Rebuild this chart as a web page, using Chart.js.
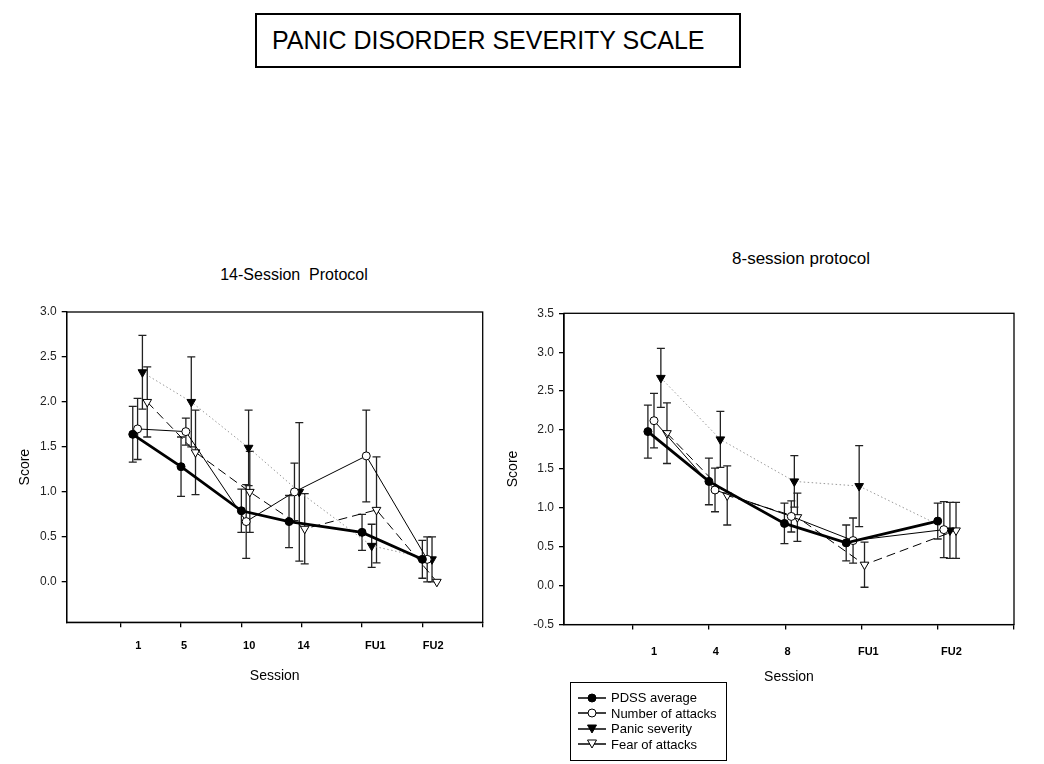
<!DOCTYPE html>
<html lang="en">
<head>
  <meta charset="UTF-8" />
  <title>Panic Disorder Severity Scale</title>
  <script src="https://cdn.jsdelivr.net/npm/chart.js"></script>
  <style>
    body {
      margin: 0;
      background: #fff;
      font-family: Arial, "Liberation Sans", sans-serif;
      color: #000;
    }
    #page {
      position: relative;
      width: 1044px;
      height: 764px;
      overflow: hidden;
    }
    .abs { position: absolute; }
    #mainTitle {
      left: 255px;
      top: 13px;
      width: 486px;
      height: 55px;
      box-sizing: border-box;
      border: 2px solid #000;
      padding-left: 15px;
      font-size: 25px;
      line-height: 51px;
      white-space: pre;
    }
    .panelTitle {
      transform: translate(-50%, -50%);
      white-space: pre;
    }
    #legend {
      left: 570px;
      top: 682px;
      width: 157px;
      height: 79px;
      box-sizing: border-box;
      border: 1px solid #000;
      padding-top: 7px;
      font-size: 13px;
    }
    #legend .row {
      height: 15.5px;
      display: flex;
      align-items: center;
    }
    #legend svg { margin-left: 6px; margin-right: 4px; }
  </style>
</head>
<body>
<div id="page">
  <div id="mainTitle" class="abs">PANIC DISORDER SEVERITY SCALE</div>
  <div class="abs panelTitle" style="left:294px; top:275px; font-size:16px;">14-Session  Protocol</div>
  <div class="abs panelTitle" style="left:801px; top:259px; font-size:17px;">8-session protocol</div>

  <canvas id="chartLeft" class="abs" width="500" height="395" style="left:0; top:290px;"></canvas>
  <canvas id="chartRight" class="abs" width="530" height="396" style="left:490px; top:290px;"></canvas>

  <div id="legend" class="abs"></div>
</div>

<script>
  // ---- shared ----
  const seriesNames = ['PDSS average', 'Number of attacks', 'Panic severity', 'Fear of attacks'];

  // ---- 14-session protocol (left panel) ----
  const sessionsL = ['1', '5', '10', '14', 'FU1', 'FU2'];
  const labelAtL = [1.29, 2.05, 3.13, 4.03, 5.22, 6.18];

  const pdssXL = [1.2, 2.0, 3.0, 3.79, 5.0, 6.0];
  const pdssL = [1.64, 1.28, 0.79, 0.67, 0.55, 0.25];
  const pdssErrL = [0.31, 0.33, 0.24, 0.29, 0.20, 0.21];

  const attacksXL = [1.28, 2.08, 3.08, 3.88, 5.07, 6.08];
  const attacksL = [1.70, 1.67, 0.67, 1.00, 1.40, 0.25];
  const attacksErrL = [0.34, 0.15, 0.41, 0.32, 0.51, 0.25];

  const severityXL = [1.36, 2.17, 3.12, 3.96, 5.16, 6.16];
  const severityL = [2.33, 2.00, 1.49, 1.00, 0.40, 0.25];
  const severityErrL = [0.41, 0.50, 0.42, 0.77, 0.24, 0.25];

  const fearXL = [1.44, 2.24, 3.14, 4.05, 5.24, 6.24];
  const fearL = [2.00, 1.44, 1.00, 0.59, 0.80, 0.00];
  const fearErrL = [0.39, 0.47, 0.45, 0.39, 0.59, 0];

  // ---- 8-session protocol (right panel) ----
  const sessionsR = ['1', '4', '8', 'FU1', 'FU2'];
  const labelAtR = [1.28, 2.09, 3.03, 4.09, 5.18];

  const pdssXR = [1.2, 2.0, 2.99, 3.8, 5.0];
  const pdssR = [1.98, 1.34, 0.80, 0.55, 0.83];
  const pdssErrR = [0.34, 0.30, 0.26, 0.23, 0.23];

  const attacksXR = [1.28, 2.08, 3.08, 3.89, 5.08];
  const attacksR = [2.12, 1.23, 0.89, 0.58, 0.72];
  const attacksErrR = [0.35, 0.28, 0.20, 0.29, 0.36];

  const severityXR = [1.37, 2.15, 3.12, 3.97, 5.16];
  const severityR = [2.67, 1.88, 1.34, 1.28, 0.71];
  const severityErrR = [0.38, 0.36, 0.33, 0.52, 0.36];

  const fearXR = [1.45, 2.24, 3.16, 4.04, 5.24];
  const fearR = [1.96, 1.16, 0.88, 0.27, 0.71];
  const fearErrR = [0.39, 0.38, 0.31, 0.29, 0.36];

  const yTicksL = [0, 0.5, 1.0, 1.5, 2.0, 2.5, 3.0];
  const yTicksR = [-0.5, 0, 0.5, 1.0, 1.5, 2.0, 2.5, 3.0, 3.5];

  function pts(xs, ys) {
    return xs.map((x, i) => ({ x: x, y: ys[i] }));
  }

  // line + marker look for each series
  const looks = [
    { borderColor: '#000', borderWidth: 2.8, borderDash: [], pointStyle: 'circle', pointRadius: 4, pointRotation: 0, pointBackgroundColor: '#000' },
    { borderColor: '#000', borderWidth: 1, borderDash: [], pointStyle: 'circle', pointRadius: 4, pointRotation: 0, pointBackgroundColor: '#fff' },
    { borderColor: '#999', borderWidth: 1, borderDash: [1.5, 2.5], pointStyle: 'triangle', pointRadius: 5, pointRotation: 180, pointBackgroundColor: '#000' },
    { borderColor: '#000', borderWidth: 1, borderDash: [9, 5], pointStyle: 'triangle', pointRadius: 5, pointRotation: 180, pointBackgroundColor: '#fff' }
  ];

  function makeDatasets(groups) {
    return groups.map((g, i) => Object.assign({
      label: seriesNames[i],
      data: pts(g[0], g[1]),
      errors: g[2],
      pointBorderColor: '#000',
      pointBorderWidth: 1,
      tension: 0,
      fill: false
    }, looks[i]));
  }

  // error bars + full frame round the plot
  const errorBars = {
    id: 'errorBars',
    beforeDatasetsDraw(chart) {
      const ctx = chart.ctx;
      const y = chart.scales.y;
      chart.data.datasets.forEach((ds, i) => {
        const meta = chart.getDatasetMeta(i);
        ctx.save();
        ctx.strokeStyle = '#222';
        ctx.lineWidth = 1.3;
        meta.data.forEach((pt, j) => {
          const e = ds.errors[j];
          if (!e) return;
          const v = ds.data[j].y;
          const top = y.getPixelForValue(v + e);
          const bot = y.getPixelForValue(v - e);
          ctx.beginPath();
          ctx.moveTo(pt.x, top); ctx.lineTo(pt.x, bot);
          ctx.moveTo(pt.x - 4, top); ctx.lineTo(pt.x + 4, top);
          ctx.moveTo(pt.x - 4, bot); ctx.lineTo(pt.x + 4, bot);
          ctx.stroke();
        });
        ctx.restore();
      });
    },
    afterDraw(chart) {
      const a = chart.chartArea;
      const ctx = chart.ctx;
      ctx.save();
      ctx.strokeStyle = '#000';
      ctx.lineWidth = 1.3;
      ctx.strokeRect(a.left, a.top, a.right - a.left, a.bottom - a.top);
      ctx.restore();
    }
  };

  function makeChart(id, o) {
    return new Chart(document.getElementById(id), {
      type: 'line',
      data: { datasets: makeDatasets(o.groups) },
      plugins: [errorBars],
      options: {
        responsive: false,
        animation: false,
        devicePixelRatio: 1,
        layout: { padding: o.padding },
        plugins: { legend: { display: false }, tooltip: { enabled: false } },
        scales: {
          x: {
            type: 'linear',
            position: 'bottom',
            bounds: 'data',
            min: o.xMin,
            max: o.xMax,
            weight: 0,
            afterBuildTicks: s => { s.ticks = o.xTickAt.map(v => ({ value: v })); },
            afterFit: s => { s.height = 5; },
            ticks: { display: false },
            grid: { drawOnChartArea: false, drawTicks: true, tickLength: 5, color: '#000', lineWidth: 1.3 },
            border: { color: '#000', width: 1.3 }
          },
          xl: {
            type: 'linear',
            position: 'bottom',
            bounds: 'data',
            min: o.xMin,
            max: o.xMax,
            weight: 1,
            afterBuildTicks: s => { s.ticks = o.labelAt.map(v => ({ value: v })); },
            afterFit: s => { s.height = o.labelAxisHeight; },
            grid: { display: false },
            border: { display: false },
            ticks: {
              autoSkip: false,
              maxRotation: 0,
              padding: o.labelPad,
              color: '#000',
              font: { size: 11, weight: 'bold', family: 'Arial, "Liberation Sans"' },
              callback: (v, i) => o.labels[i]
            },
            title: {
              display: true,
              text: 'Session',
              color: '#000',
              padding: { top: 0, bottom: 0 },
              font: { size: 14, family: 'Arial, "Liberation Sans"' }
            }
          },
          y: {
            type: 'linear',
            position: 'left',
            bounds: 'data',
            min: o.yMin,
            max: o.yMax,
            afterBuildTicks: s => { s.ticks = o.yTicks.map(v => ({ value: v })); },
            afterFit: s => { s.width = o.yWidth; },
            grid: { drawOnChartArea: false, drawTicks: true, tickLength: 5, color: '#000', lineWidth: 1.3 },
            border: { color: '#000', width: 1.3 },
            ticks: {
              padding: 5,
              color: '#222',
              font: { size: 12, family: 'Arial, "Liberation Sans"' },
              callback: v => v.toFixed(1)
            },
            title: {
              display: true,
              text: 'Score',
              color: '#000',
              padding: { top: o.yTitlePad, bottom: 0 },
              font: { size: 14, family: 'Arial, "Liberation Sans"' }
            }
          }
        }
      }
    });
  }

  makeChart('chartLeft', {
    groups: [
      [pdssXL, pdssL, pdssErrL],
      [attacksXL, attacksL, attacksErrL],
      [severityXL, severityL, severityErrL],
      [fearXL, fearL, fearErrL]
    ],
    labels: sessionsL,
    labelAt: labelAtL,
    xTickAt: [1, 2, 3, 4, 5, 6, 7],
    xMin: 0.105, xMax: 7,
    yMin: -0.45, yMax: 3.0, yTicks: yTicksL,
    yWidth: 66.7, yTitlePad: 17,
    labelPad: 4, labelAxisHeight: 57.7,
    padding: { top: 22, right: 17.3, bottom: 0, left: 0 }
  });

  makeChart('chartRight', {
    groups: [
      [pdssXR, pdssR, pdssErrR],
      [attacksXR, attacksR, attacksErrR],
      [severityXR, severityR, severityErrR],
      [fearXR, fearR, fearErrR]
    ],
    labels: sessionsR,
    labelAt: labelAtR,
    xTickAt: [1, 2, 3, 4, 5, 6],
    xMin: 0.1, xMax: 6,
    yMin: -0.5, yMax: 3.5, yTicks: yTicksR,
    yWidth: 74, yTitlePad: 15,
    labelPad: 7.7, labelAxisHeight: 56.4,
    padding: { top: 23.3, right: 6, bottom: 0, left: 0 }
  });

  // legend box, built from the same series looks
  const legend = document.getElementById('legend');
  seriesNames.forEach((name, i) => {
    const lk = looks[i];
    const row = document.createElement('div');
    row.className = 'row';
    let marker;
    if (lk.pointStyle === 'circle') {
      marker = '<circle cx="15" cy="6" r="4" fill="' + lk.pointBackgroundColor + '" stroke="#000" stroke-width="1"/>';
    } else {
      marker = '<polygon points="10.5,2 19.5,2 15,10" fill="' + lk.pointBackgroundColor + '" stroke="#000" stroke-width="1"/>';
    }
    row.innerHTML = '<svg width="30" height="12"><line x1="1" y1="6" x2="29" y2="6" stroke="#000" stroke-width="1.5"/>' +
      marker + '</svg><span>' + name + '</span>';
    legend.appendChild(row);
  });
</script>
</body>
</html>
